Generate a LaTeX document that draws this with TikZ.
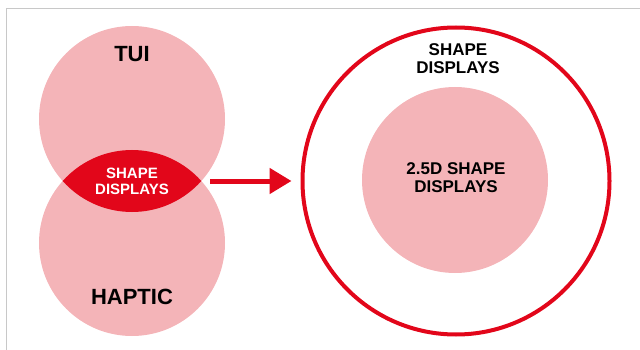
\documentclass[tikz,border=0pt]{standalone}
\usepackage{fontspec}
\usepackage{xcolor}
\usepackage{tikz}
\usetikzlibrary{arrows.meta}
\setmainfont{Liberation Sans}

\definecolor{softpink}{HTML}{F4B4B8}
\definecolor{signalred}{HTML}{E2061A}
\definecolor{framegray}{HTML}{C8C8C8}

\tikzset{
    blob/.style={circle, fill=softpink, inner sep=0pt},
    bigword/.style={font=\bfseries\fontsize{22}{24}\selectfont},
    midword/.style={font=\bfseries\fontsize{17}{18}\selectfont, align=center},
    smallword/.style={font=\bfseries\fontsize{15}{16}\selectfont, align=center, text=white}
}

\begin{document}
\begin{tikzpicture}[x=1pt, y=-1pt]
    \useasboundingbox (0,0) rectangle (640,350);
    % frame
    \draw[framegray, line width=1pt] (6,350) -- (6,8.5) -- (640,8.5);

    % TUI and haptic overlap
    \node[blob, minimum size=186pt] (tui) at (132,119) {};
    \node[blob, minimum size=186pt] (haptic) at (132,243) {};
    \begin{scope}
        \clip (132,119) circle[radius=93pt];
        \fill[signalred] (132,243) circle[radius=93pt];
    \end{scope}
    \coordinate (lensright) at (207,181);
    \node[bigword] (tuitext) at (132,54) {TUI};
    \node[bigword] (haptictext) at (132,297) {HAPTIC};
    \node[smallword] (lenstext) at (132,181) {SHAPE\\DISPLAYS};

    % shape displays
    \node[circle, draw=signalred, line width=4pt, minimum size=307pt, inner sep=0pt] (outer) at (456,181) {};
    \node[blob, minimum size=186pt] (inner) at (455,180) {};
    \node[midword] (outertext) at (458,59) {SHAPE\\DISPLAYS};
    \node[midword] (innertext) at (456,178) {2.5D SHAPE\\DISPLAYS};

    \draw[signalred, line width=5pt, -{Triangle[length=22pt, width=25pt]}] ([xshift=3pt]lensright) -- ([xshift=-9pt]outer.west);
\end{tikzpicture}
\end{document}
